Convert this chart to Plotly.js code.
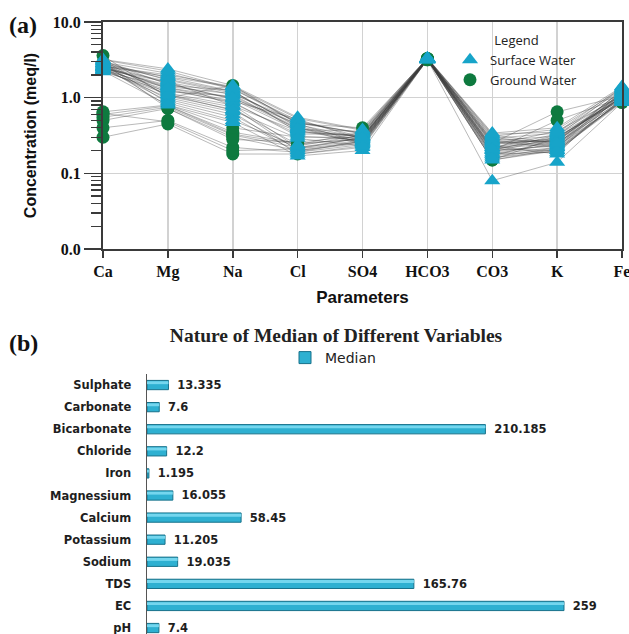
<!DOCTYPE html>
<html>
<head>
<meta charset="utf-8">
<script src="https://cdn.plot.ly/plotly-3.0.1.min.js"></script>
<style>body{margin:0;background:#fff}#chart{width:629px;height:634px}</style>
</head>
<body>
<div id="chart"></div>
<script>
// ---------- Panel (a): Schoeller-type diagram ----------
const parameters = ['Ca', 'Mg', 'Na', 'Cl', 'SO4', 'HCO3', 'CO3', 'K', 'Fe'];

// each row = one sample: Ca, Mg, Na, Cl, SO4, HCO3, CO3, K, Fe (meq/l)
const surfaceWater = [
  [3.20, 2.40, 1.45, 0.55, 0.38, 3.35, 0.34, 0.40, 1.40],
  [2.95, 2.10, 1.30, 0.50, 0.30, 3.25, 0.28, 0.26, 1.25],
  [2.60, 1.90, 1.38, 0.47, 0.34, 3.30, 0.22, 0.33, 1.10],
  [2.80, 1.75, 1.20, 0.42, 0.27, 3.20, 0.30, 0.24, 1.30],
  [2.40, 1.60, 1.10, 0.38, 0.36, 3.28, 0.19, 0.30, 0.95],
  [3.05, 1.50, 0.98, 0.45, 0.25, 3.22, 0.26, 0.22, 1.18],
  [2.50, 1.45, 1.25, 0.35, 0.31, 3.32, 0.24, 0.36, 1.05],
  [2.30, 1.35, 0.90, 0.52, 0.28, 3.18, 0.21, 0.20, 0.90],
  [2.70, 1.30, 0.85, 0.33, 0.33, 3.26, 0.17, 0.28, 1.22],
  [2.20, 1.20, 1.05, 0.40, 0.24, 3.30, 0.32, 0.25, 1.00],
  [2.85, 1.15, 0.80, 0.22, 0.29, 3.24, 0.23, 0.18, 1.15],
  [2.55, 1.10, 0.75, 0.20, 0.26, 3.20, 0.20, 0.23, 0.88],
  [3.10, 1.05, 0.70, 0.24, 0.35, 3.34, 0.27, 0.31, 1.35],
  [2.35, 1.00, 0.65, 0.18, 0.22, 3.16, 0.15, 0.21, 0.92],
  [2.65, 0.95, 0.60, 0.21, 0.30, 3.28, 0.25, 0.27, 1.08],
  [2.45, 0.90, 0.55, 0.19, 0.27, 3.22, 0.18, 0.19, 0.96],
  [2.90, 0.85, 0.50, 0.23, 0.32, 3.30, 0.29, 0.34, 1.28],
  [2.25, 0.80, 0.47, 0.17, 0.20, 3.18, 0.08, 0.14, 0.86],
  [3.00, 1.70, 1.15, 0.44, 0.29, 3.26, 0.22, 0.26, 1.12],
  [2.75, 1.55, 0.95, 0.37, 0.26, 3.24, 0.24, 0.29, 1.02],
  [2.50, 1.40, 1.12, 0.48, 0.33, 3.32, 0.27, 0.23, 1.20],
  [2.38, 1.25, 0.88, 0.31, 0.28, 3.20, 0.20, 0.32, 0.98],
  [2.62, 2.00, 1.40, 0.53, 0.37, 3.34, 0.31, 0.38, 1.32],
  [2.82, 1.85, 1.22, 0.41, 0.25, 3.22, 0.18, 0.22, 1.06],
  [2.48, 1.65, 0.78, 0.36, 0.31, 3.28, 0.26, 0.27, 1.16],
  [2.28, 1.10, 0.68, 0.29, 0.23, 3.18, 0.16, 0.20, 0.94],
  [3.15, 2.25, 1.32, 0.46, 0.34, 3.30, 0.33, 0.35, 1.38],
  [2.58, 1.35, 1.00, 0.39, 0.30, 3.24, 0.21, 0.25, 1.04]
];

const groundWater = [
  [3.60, 1.00, 1.45, 0.45, 0.40, 3.30, 0.25, 0.65, 1.05],
  [0.65, 0.80, 0.40, 0.30, 0.30, 3.25, 0.20, 0.50, 1.00],
  [0.60, 0.78, 0.35, 0.25, 0.28, 3.20, 0.15, 0.30, 0.95],
  [0.55, 0.75, 0.32, 0.22, 0.27, 3.22, 0.18, 0.25, 0.92],
  [0.50, 0.72, 0.30, 0.20, 0.25, 3.18, 0.16, 0.22, 0.90],
  [0.40, 0.50, 0.22, 0.19, 0.24, 3.20, 0.17, 0.21, 0.88],
  [0.30, 0.45, 0.18, 0.18, 0.23, 3.16, 0.15, 0.20, 0.86],
  [0.62, 0.48, 0.20, 0.21, 0.26, 3.24, 0.19, 0.24, 0.94],
  [2.60, 0.78, 0.33, 0.24, 0.29, 3.26, 0.21, 0.28, 1.00],
  [2.90, 0.72, 0.28, 0.26, 0.31, 3.28, 0.22, 0.30, 1.02]
];

// ---------- Panel (b): medians ----------
const variables = ['Sulphate', 'Carbonate', 'Bicarbonate', 'Chloride', 'Iron', 'Magnessium',
                   'Calcium', 'Potassium', 'Sodium', 'TDS', 'EC', 'pH'];
const medianValues = [13.335, 7.6, 210.185, 12.2, 1.195, 16.055, 58.45, 11.205, 19.035, 165.76, 259, 7.4];

const SW_COLOR = '#17a4c9';
const GW_COLOR = '#0e7a3f';

const traces = [];
groundWater.concat(surfaceWater).forEach(function (s) {
  traces.push({
    type: 'scatter', mode: 'lines', x: parameters, y: s,
    xaxis: 'x', yaxis: 'y',
    line: {color: 'rgba(60,60,60,0.45)', width: 0.8},
    showlegend: false, hoverinfo: 'skip', cliponaxis: false
  });
});

traces.push({
  type: 'scatter', mode: 'markers', name: 'Ground Water', legendgroup: 'gw',
  x: groundWater.flatMap(function () { return parameters; }),
  y: groundWater.flat(),
  xaxis: 'x', yaxis: 'y', cliponaxis: false,
  marker: {symbol: 'circle', size: 13, color: GW_COLOR, line: {width: 0}}
});
traces.push({
  type: 'scatter', mode: 'markers', name: 'Surface Water', legendgroup: 'sw',
  x: surfaceWater.flatMap(function () { return parameters; }),
  y: surfaceWater.flat(),
  xaxis: 'x', yaxis: 'y', cliponaxis: false,
  marker: {symbol: 'triangle-up', size: 14, color: SW_COLOR, line: {width: 0}}
});

// main bars
traces.push({
  type: 'bar', orientation: 'h', name: 'Median', legend: 'legend2',
  x: medianValues, y: variables, xaxis: 'x2', yaxis: 'y2',
  width: 0.42,
  marker: {color: '#2eb0d1', line: {color: '#17718a', width: 1}},
  text: medianValues.map(function (v) { return '\u2002' + v; }),
  textposition: 'outside', constraintext: 'none', cliponaxis: false,
  textfont: {family: 'DejaVu Sans', size: 11.5, weight: 'bold', color: '#1e1e1e'},
  hoverinfo: 'x+y'
});
// highlight stripe on the upper part of each bar (3-D look)
traces.push({
  type: 'bar', orientation: 'h', showlegend: false,
  x: medianValues, y: variables, xaxis: 'x2', yaxis: 'y2',
  width: 0.13, offset: -0.17,
  marker: {color: '#74d6ee', line: {width: 0}},
  hoverinfo: 'skip'
});

const serifBold = {family: 'Liberation Serif', size: 16, weight: 'bold', color: '#111'};
const H = 634, W = 629;

const layout = {
  width: W, height: H,
  margin: {l: 0, r: 0, t: 0, b: 0},
  paper_bgcolor: '#ffffff', plot_bgcolor: '#ffffff',
  showlegend: true, barmode: 'overlay',
  title: {
    text: 'Nature of Median of Different Variables',
    x: 336 / W, xanchor: 'center', y: 1 - 335 / H, yanchor: 'middle',
    font: {family: 'Liberation Serif', size: 19.5, weight: 'bold', color: '#222'}
  },
  xaxis: {
    domain: [103 / W, 622 / W], anchor: 'y', type: 'category', range: [0, 8],
    showgrid: true, gridcolor: '#d2d2d2', gridwidth: 1.5,
    showline: true, linecolor: '#3a3a3a', linewidth: 2, mirror: true,
    ticks: 'outside', ticklen: 7, tickwidth: 1.5, tickcolor: '#3a3a3a',
    tickfont: serifBold, zeroline: false, automargin: false,
    title: {text: 'Parameters', standoff: 11,
            font: {family: 'Liberation Sans', size: 17, weight: 'bold', color: '#111'}}
  },
  yaxis: {
    domain: [1 - 249 / H, 1 - 22 / H], anchor: 'x', type: 'log', range: [-2, 1],
    dtick: 1, tickformat: '.1f',
    showgrid: true, gridcolor: '#d2d2d2', gridwidth: 1.5,
    showline: true, linecolor: '#3a3a3a', linewidth: 2, mirror: true,
    ticks: 'outside', ticklen: 17, tickwidth: 1.5, tickcolor: '#3a3a3a',
    minor: {ticks: 'outside', ticklen: 10, tickwidth: 1.3, tickcolor: '#3a3a3a', dtick: 'D1', showgrid: false},
    tickfont: serifBold, zeroline: false, automargin: false,
    title: {text: 'Concentration (meq/l)', standoff: 12,
            font: {family: 'Liberation Sans', size: 16, weight: 'bold', color: '#111'}}
  },
  xaxis2: {
    domain: [147 / W, 600 / W], anchor: 'y2', range: [0, (600 - 147) / 1.61],
    visible: false
  },
  yaxis2: {
    domain: [0, 1 - 374 / H], anchor: 'x2', type: 'category', range: [11.27, -0.5],
    showline: true, linecolor: '#555', linewidth: 1.5, showgrid: false, zeroline: false,
    ticks: 'outside', ticklen: 12, tickcolor: 'rgba(0,0,0,0)',
    tickfont: {family: 'DejaVu Sans', size: 11.5, weight: 'bold', color: '#1e1e1e'},
    automargin: false
  },
  legend: {
    x: 450 / W, y: 1 - 28 / H, xanchor: 'left', yanchor: 'top',
    bgcolor: 'rgba(0,0,0,0)', tracegroupgap: 3, traceorder: 'reversed',
    title: {text: 'Legend', side: 'top center', font: {family: 'Open Sans', size: 13, color: '#222'}},
    font: {family: 'Open Sans', size: 13, color: '#222'}
  },
  legend2: {
    x: 285 / W, y: 1 - 358 / H, xanchor: 'left', yanchor: 'middle',
    bgcolor: 'rgba(0,0,0,0)',
    font: {family: 'DejaVu Sans', size: 14, color: '#222'}
  },
  annotations: [
    {text: '(a)', xref: 'paper', yref: 'paper', x: 7 / W, y: 1 - 25 / H, xanchor: 'left', yanchor: 'middle',
     showarrow: false, font: {family: 'Liberation Serif', size: 24, weight: 'bold', color: '#111'}},
    {text: '(b)', xref: 'paper', yref: 'paper', x: 7 / W, y: 1 - 343 / H, xanchor: 'left', yanchor: 'middle',
     showarrow: false, font: {family: 'Liberation Serif', size: 24, weight: 'bold', color: '#111'}}
  ]
};

Plotly.newPlot('chart', traces, layout, {displayModeBar: false, staticPlot: true});
</script>
</body>
</html>
